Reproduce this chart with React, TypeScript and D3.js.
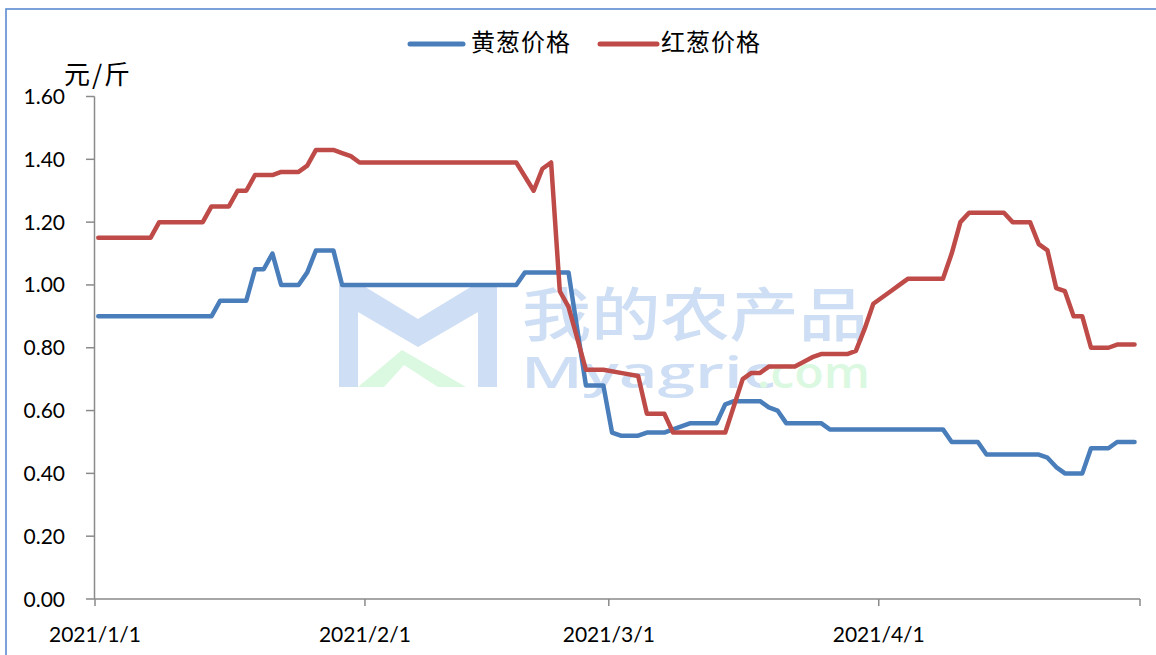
import React from "react";
import * as d3 from "d3";

// ---- data ----
const yellowDates = [
  "2021-01-01", "2021-01-14", "2021-01-15", "2021-01-18", "2021-01-19", "2021-01-20",
  "2021-01-21", "2021-01-22", "2021-01-24", "2021-01-25", "2021-01-26", "2021-01-28",
  "2021-01-29", "2021-02-18", "2021-02-19", "2021-02-24", "2021-02-26", "2021-02-28",
  "2021-03-01", "2021-03-02", "2021-03-04", "2021-03-05", "2021-03-07", "2021-03-08",
  "2021-03-10", "2021-03-13", "2021-03-14", "2021-03-15", "2021-03-18", "2021-03-19",
  "2021-03-20", "2021-03-21", "2021-03-25", "2021-03-26", "2021-04-08", "2021-04-09",
  "2021-04-12", "2021-04-13", "2021-04-19", "2021-04-20", "2021-04-21", "2021-04-22",
  "2021-04-24", "2021-04-25", "2021-04-27", "2021-04-28", "2021-04-30",
];
const yellowValues = [
  0.90, 0.90, 0.95, 0.95, 1.05, 1.05,
  1.10, 1.00, 1.00, 1.04, 1.11, 1.11,
  1.00, 1.00, 1.04, 1.04, 0.68, 0.68,
  0.53, 0.52, 0.52, 0.53, 0.53, 0.54,
  0.56, 0.56, 0.62, 0.63, 0.63, 0.61,
  0.60, 0.56, 0.56, 0.54, 0.54, 0.50,
  0.50, 0.46, 0.46, 0.45, 0.42, 0.40,
  0.40, 0.48, 0.48, 0.50, 0.50,
];

const redDates = [
  "2021-01-01", "2021-01-07", "2021-01-08", "2021-01-13", "2021-01-14", "2021-01-16",
  "2021-01-17", "2021-01-18", "2021-01-19", "2021-01-21", "2021-01-22", "2021-01-24",
  "2021-01-25", "2021-01-26", "2021-01-28", "2021-01-29", "2021-01-30", "2021-01-31",
  "2021-02-18", "2021-02-20", "2021-02-21", "2021-02-22", "2021-02-23", "2021-02-24",
  "2021-02-26", "2021-02-28", "2021-03-02", "2021-03-04", "2021-03-05", "2021-03-07",
  "2021-03-08", "2021-03-14", "2021-03-16", "2021-03-17", "2021-03-18", "2021-03-19",
  "2021-03-22", "2021-03-24", "2021-03-25", "2021-03-28", "2021-03-29", "2021-03-30",
  "2021-03-31", "2021-04-01", "2021-04-02", "2021-04-03", "2021-04-04", "2021-04-08",
  "2021-04-09", "2021-04-10", "2021-04-11", "2021-04-15", "2021-04-16", "2021-04-18",
  "2021-04-19", "2021-04-20", "2021-04-21", "2021-04-22", "2021-04-23", "2021-04-24",
  "2021-04-25", "2021-04-27", "2021-04-28", "2021-04-30",
];
const redValues = [
  1.15, 1.15, 1.20, 1.20, 1.25, 1.25,
  1.30, 1.30, 1.35, 1.35, 1.36, 1.36,
  1.38, 1.43, 1.43, 1.42, 1.41, 1.39,
  1.39, 1.30, 1.37, 1.39, 0.98, 0.93,
  0.73, 0.73, 0.72, 0.71, 0.59, 0.59,
  0.53, 0.53, 0.70, 0.72, 0.72, 0.74,
  0.74, 0.77, 0.78, 0.78, 0.79, 0.86,
  0.94, 0.96, 0.98, 1.00, 1.02, 1.02,
  1.10, 1.20, 1.23, 1.23, 1.20, 1.20,
  1.13, 1.11, 0.99, 0.98, 0.90, 0.90,
  0.80, 0.80, 0.81, 0.81,
];

const seriesNames = ["黄葱价格", "红葱价格"];
const seriesColors = ["#4A7EBB", "#BE4B48"];
const xTickDates = ["2021-01-01", "2021-02-01", "2021-03-01", "2021-04-01", "2021-05-01"];
const xTickLabels = ["2021/1/1", "2021/2/1", "2021/3/1", "2021/4/1", ""];
const yTickValues = [0, 0.2, 0.4, 0.6, 0.8, 1.0, 1.2, 1.4, 1.6];
const yUnit = "元/斤";
const watermarkCn = "我的农产品";
const watermarkEnA = "Myagric";
const watermarkEnB = ".com";

const W = 1156;
const H = 655;
const parse = d3.timeParse("%Y-%m-%d");

export default function App() {
  const x = d3
    .scaleTime()
    .domain([parse("2021-01-01") as Date, parse("2021-05-01") as Date])
    .range([95, 1140]);
  const y = d3.scaleLinear().domain([0, 1.6]).range([599, 96.5]);

  // Excel date axis: points sit slightly inside each day's slot
  const px = (s: string) => x(d3.timeHour.offset(parse(s) as Date, 9));

  const makeLine = (dates: string[], vals: number[]) => {
    const pts = dates.map((d, i) => [px(d), y(vals[i])] as [number, number]);
    return d3.line()(pts) || "";
  };

  const series = [
    { name: seriesNames[0], color: seriesColors[0], d: makeLine(yellowDates, yellowValues) },
    { name: seriesNames[1], color: seriesColors[1], d: makeLine(redDates, redValues) },
  ];

  const tickFont = "Lato, 'Liberation Sans', sans-serif";
  const cjkFont = "'Noto Sans CJK SC', 'Noto Sans', sans-serif";
  const axisColor = "#8a8a8a";
  const wmBlue = "#c9dbf3";
  const wmGreen = "#d8f8de";

  const legendItems = [
    { x0: 410, x1: 463, tx: 471 },
    { x0: 600, x1: 657, tx: 661 },
  ];

  return (
    <div style={{ position: "absolute", left: 0, top: 0 }}>
      <svg width={W} height={H} style={{ display: "block", background: "#fff" }}>
        <rect x={0} y={0} width={W} height={H} fill="#fff" />
        {/* chart area border */}
        <rect x={6} y={9} width={1300} height={800} fill="none" stroke="#5b8bd2" strokeWidth={1.6} />

        {/* watermark */}
        <g opacity={0.9}>
          <path
            d="M339,285 L362,285 L418,319 L474,285 L497,285 L497,387 L478,387 L478,312 L418,347 L358,312 L358,387 L339,387 Z"
            fill={wmBlue}
          />
          <path d="M358,387 L402,350 L466,387 L438,387 L404,365 L384,387 Z" fill={wmGreen} />
          <text fontFamily={cjkFont}>
            <tspan
              x={522}
              y={336}
              fontSize={58}
              fontWeight={500}
              fill={wmBlue}
              textLength={346}
              lengthAdjust="spacingAndGlyphs"
            >
              {watermarkCn}
            </tspan>
            <tspan
              x={521}
              y={388}
              fontFamily="'Open Sans', sans-serif"
              fontWeight={600}
              fontSize={44}
              textLength={255}
              lengthAdjust="spacingAndGlyphs"
              fill={wmBlue}
            >
              {watermarkEnA}
            </tspan>
            <tspan
              x={757}
              y={388}
              fontFamily="'Open Sans', sans-serif"
              fontWeight={600}
              fontSize={44}
              textLength={113}
              lengthAdjust="spacingAndGlyphs"
              fill={wmGreen}
            >
              {watermarkEnB}
            </tspan>
          </text>
        </g>

        {/* y axis */}
        <line x1={94.5} x2={94.5} y1={y(1.6)} y2={y(0)} stroke={axisColor} strokeWidth={1.5} />
        {yTickValues.map((v) => (
          <g key={v}>
            <line x1={86} x2={94.5} y1={y(v)} y2={y(v)} stroke={axisColor} strokeWidth={1.5} />
            <text
              x={65}
              y={y(v) + 7.5}
              textAnchor="end"
              fontFamily={tickFont}
              fontSize={21}
              fill="#000"
            >
              {v.toFixed(2)}
            </text>
          </g>
        ))}
        <text x={64} y={84} fontFamily={cjkFont} fontSize={26} fill="#000" textLength={66} lengthAdjust="spacing">
          {yUnit}
        </text>

        {/* x axis */}
        <line x1={94.5} x2={1140} y1={599} y2={599} stroke={axisColor} strokeWidth={1.5} />
        {xTickDates.map((s, i) => {
          const tx = x(parse(s) as Date);
          return (
            <g key={s}>
              <line x1={tx} x2={tx} y1={599} y2={606} stroke={axisColor} strokeWidth={1.5} />
              {xTickLabels[i] ? (
                <text x={tx} y={642} textAnchor="middle" fontFamily={tickFont} fontSize={21} fill="#000">
                  {xTickLabels[i]}
                </text>
              ) : null}
            </g>
          );
        })}

        {/* series */}
        {series.map((s) => (
          <path
            key={s.name}
            d={s.d}
            fill="none"
            stroke={s.color}
            strokeWidth={4.5}
            strokeLinejoin="round"
            strokeLinecap="round"
          />
        ))}

        {/* legend */}
        {series.map((s, i) => (
          <g key={"lg" + s.name}>
            <line
              x1={legendItems[i].x0}
              x2={legendItems[i].x1}
              y1={44}
              y2={44}
              stroke={s.color}
              strokeWidth={5}
              strokeLinecap="round"
            />
            <text x={legendItems[i].tx} y={51} fontFamily={cjkFont} fontSize={24} fill="#000" textLength={99} lengthAdjust="spacing">
              {s.name}
            </text>
          </g>
        ))}
      </svg>
    </div>
  );
}
